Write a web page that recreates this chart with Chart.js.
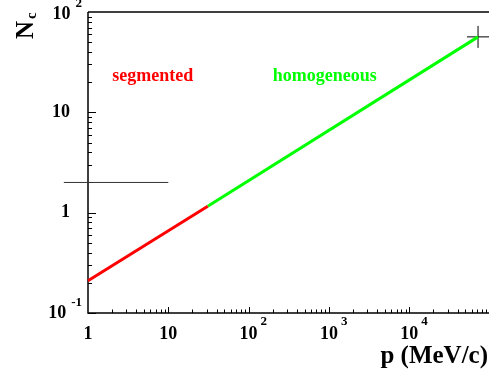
<!DOCTYPE html>
<html>
<head>
<meta charset="utf-8">
<script src="https://cdn.jsdelivr.net/npm/chart.js@4/dist/chart.umd.min.js"></script>
<style>
html,body{margin:0;padding:0;background:#fff;overflow:hidden;}
#wrap{width:495px;height:380px;position:relative;}
</style>
</head>
<body>
<div id="wrap"><canvas id="c" width="495" height="380"></canvas></div>
<script>
// ---- data ----
const segmentedP = [1, 31];
const segmentedN = [0.21, 1.16];
const homogeneousP = [31, 72000];
const homogeneousN = [1.16, 56.5];
const refLineP = [0.5, 10];
const refLineN = [2, 2];
const markerP = [72000];
const markerN = [56.5];

const xTickValues = [1, 10, 100, 1000, 10000];
const xTickBase = ["1", "10", "10", "10", "10"];
const xTickExp = ["", "", "2", "3", "4"];
const yTickValues = [0.1, 1, 10, 100];
const yTickBase = ["10", "1", "10", "10"];
const yTickExp = ["-1", "", "", "2"];

const annotations = [
  {text: "segmented", p: 2.0, color: "#ff0000"},
  {text: "homogeneous", p: 200, color: "#00ff00"}
];
const annotationN = 20.5;

const pts = (xs, ys) => xs.map((x, i) => ({x: x, y: ys[i]}));
const FONT = '"Liberation Serif","Times New Roman",Times,serif';

const axesPlugin = {
  id: 'rootAxes',
  beforeDatasetsDraw(chart) {
    const ctx = chart.ctx, a = chart.chartArea;
    const xs = chart.scales.x, ys = chart.scales.y;
    ctx.save();
    ctx.strokeStyle = '#000';
    ctx.lineWidth = 1.5;
    ctx.beginPath();
    ctx.moveTo(a.left, a.top); ctx.lineTo(a.left, a.bottom); ctx.lineTo(a.right + 10, a.bottom);
    ctx.moveTo(a.left, a.top); ctx.lineTo(a.right + 10, a.top);
    ctx.stroke();
    ctx.lineWidth = 1;
    ctx.beginPath();
    for (let d = -1; d < 2; d++) {
      for (let k = 1; k <= 9; k++) {
        const v = k * Math.pow(10, d);
        const py = Math.round(ys.getPixelForValue(v)) + 0.5;
        const len = k === 1 ? 8 : 4;
        ctx.moveTo(a.left, py); ctx.lineTo(a.left + len, py);
      }
    }
    for (let d = 0; d < 5; d++) {
      for (let k = 1; k <= 9; k++) {
        const v = k * Math.pow(10, d);
        const px = Math.round(xs.getPixelForValue(v)) + 0.5;
        if (k === 1 && d === 0) continue;
        const len = k === 1 ? 6 : 3.5;
        ctx.moveTo(px, a.bottom); ctx.lineTo(px, a.bottom - len);
      }
    }
    ctx.stroke();
    ctx.restore();
  },
  afterDraw(chart) {
    const ctx = chart.ctx, a = chart.chartArea;
    const xs = chart.scales.x, ys = chart.scales.y;
    ctx.save();
    ctx.fillStyle = '#000';
    ctx.textBaseline = 'middle';
    const mainF = 'bold 18px ' + FONT, expF = 'bold 13px ' + FONT;
    xTickValues.forEach((v, i) => {
      const px = xs.getPixelForValue(v);
      const cy = 334;
      ctx.font = mainF; ctx.textAlign = 'center';
      ctx.fillText(xTickBase[i], px, cy);
      if (xTickExp[i]) {
        const w = ctx.measureText(xTickBase[i]).width;
        ctx.font = expF; ctx.textAlign = 'left';
        ctx.fillText(xTickExp[i], px + w / 2 + 3, cy - 12);
      }
    });
    yTickValues.forEach((v, i) => {
      const py = ys.getPixelForValue(v);
      let cy = py;
      if (v === 100) cy = py + 2;
      if (yTickExp[i]) {
        ctx.font = expF; ctx.textAlign = 'right';
        ctx.fillText(yTickExp[i], 82, cy - 10);
        const we = ctx.measureText(yTickExp[i]).width;
        ctx.font = mainF;
        ctx.fillText(yTickBase[i], 82 - we - 5, cy);
      } else {
        ctx.font = mainF; ctx.textAlign = 'right';
        ctx.fillText(yTickBase[i], 70, cy);
      }
    });
    ctx.textBaseline = 'alphabetic';
    ctx.font = 'bold 25px ' + FONT; ctx.textAlign = 'right';
    ctx.fillText('p (MeV/c)', 488, 363);
    ctx.save();
    ctx.translate(33, 39);
    ctx.rotate(-Math.PI / 2);
    ctx.textAlign = 'left';
    ctx.font = 'bold 25px ' + FONT;
    ctx.fillText('N', 0, 0);
    const wn = ctx.measureText('N').width;
    ctx.font = 'bold 15px ' + FONT;
    ctx.fillText('c', wn + 2, 3);
    ctx.restore();
    ctx.font = 'bold 18px ' + FONT; ctx.textAlign = 'left';
    annotations.forEach(t => {
      ctx.fillStyle = t.color;
      ctx.fillText(t.text, xs.getPixelForValue(t.p), ys.getPixelForValue(annotationN));
    });
    ctx.restore();
  }
};

new Chart(document.getElementById('c'), {
  type: 'line',
  data: {
    datasets: [
      {data: pts(refLineP, refLineN), borderColor: '#333', borderWidth: 1, pointRadius: 0, clip: false},
      {data: pts(segmentedP, segmentedN), borderColor: '#ff0000', borderWidth: 3, pointRadius: 0, clip: false},
      {data: pts(homogeneousP, homogeneousN), borderColor: '#00ff00', borderWidth: 3, pointRadius: 0, clip: false},
      {data: pts(markerP, markerN), showLine: false, pointStyle: 'cross', pointRadius: 11, pointBorderColor: '#000', pointBorderWidth: 1, borderColor: '#000', clip: false}
    ]
  },
  options: {
    responsive: false,
    animation: false,
    events: [],
    layout: {autoPadding: false, padding: {left: 88, right: 5.5, top: 12, bottom: 67}},
    plugins: {legend: {display: false}, tooltip: {enabled: false}},
    scales: {
      x: {type: 'logarithmic', min: 1, max: 100000, display: false},
      y: {type: 'logarithmic', min: 0.1, max: 100, display: false}
    }
  },
  plugins: [axesPlugin]
});
</script>
</body>
</html>
